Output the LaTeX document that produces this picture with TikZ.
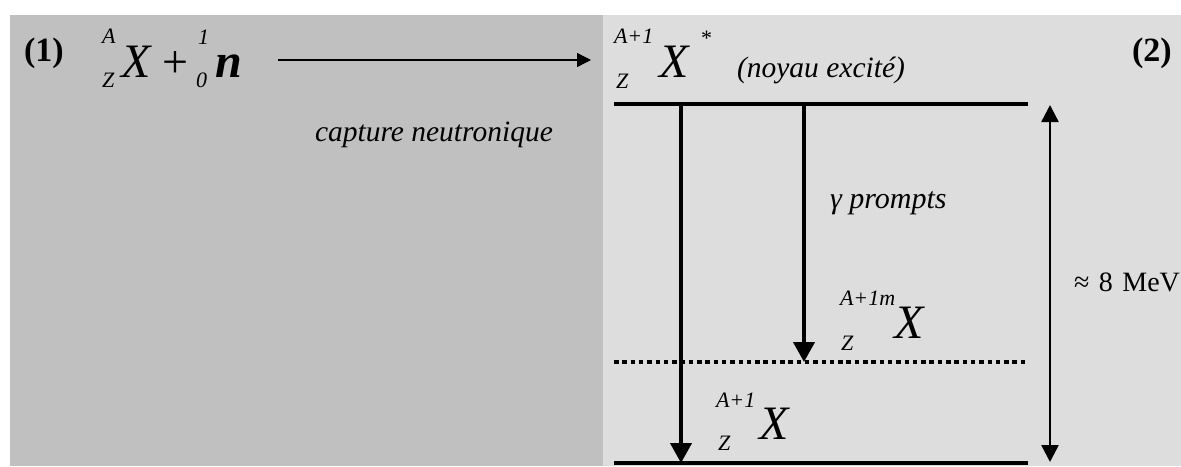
\documentclass[tikz,border=0pt]{standalone}
\usepackage{fontspec}
\setmainfont{Liberation Serif}
\usetikzlibrary{arrows.meta}
\begin{document}
\begin{tikzpicture}[x=1pt,y=-1pt,
  txt/.style={inner sep=0pt, outer sep=0pt, anchor=base west},
  big/.style={txt, font=\fontsize{48}{52}\selectfont\itshape},
  small/.style={txt, font=\fontsize{22}{24}\selectfont\itshape},
  label/.style={txt, font=\fontsize{29.5}{32}\selectfont\itshape},
  num/.style={txt, font=\fontsize{34}{38}\selectfont\bfseries},
  level/.style={line width=4pt},
  decay/.style={line width=4pt, -{Triangle[length=20pt,width=21pt]}},
  span/.style={line width=2.5pt, {Triangle[length=17pt,width=17pt]}-{Triangle[length=17pt,width=17pt]}},
  react/.style={line width=1.3pt, -{Triangle[length=14pt,width=14pt]}}
]
\useasboundingbox (0,0) rectangle (1181,466);
\fill[white] (0,0) rectangle (1181,466);
\fill[fill={rgb,255:red,192;green,192;blue,192}] (10,15) rectangle (603,466);
\fill[fill={rgb,255:red,221;green,221;blue,221}] (603,15) rectangle (1181,466);

% panel numbers
\node[num] (n1) at (24,61) {(1)};
\node[num] (n2) at (1132,61) {(2)};

% left formula
\node[small] (lA) at (102,43) {A};
\node[small] (lZ) at (102,87) {Z};
\node[big] (lX) at (121,77) {X};
\node[txt, font=\fontsize{46}{50}\selectfont] (lplus) at (162,77) {+};
\node[small] (l1) at (198,44) {1};
\node[small] (l0) at (196,87) {0};
\node[big, font=\fontsize{48}{52}\selectfont\bfseries\itshape] (ln) at (215,77) {n};

% reaction arrow
\coordinate (rs) at (278,60);
\coordinate (re) at (591,60);
\draw[react] (rs) -- (re);
\node[label] (cap) at (315,141) {capture neutronique};

% excited nucleus
\node[small] (eA) at (614,43) {A+1};
\node[small] (eZ) at (616,88) {Z};
\node[big] (eX) at (659,77) {X};
\node[small, font=\fontsize{22}{24}\selectfont] (eS) at (701,45) {*};
\node[label] (exc) at (737,77) {(noyau excité)};

% levels
\coordinate (t1) at (614,104); \coordinate (t2) at (1028,104);
\coordinate (m1) at (614,362); \coordinate (m2) at (1028,362);
\coordinate (b1) at (614,463); \coordinate (b2) at (1028,463);
\draw[level] (t1) -- (t2);
\draw[level, dash pattern=on 4.5pt off 3.8pt] (m1) -- (m2);
\draw[level] (b1) -- (b2);

% decay arrows
\coordinate (a1s) at (681,104); \coordinate (a1e) at (681,463);
\coordinate (a2s) at (804,104); \coordinate (a2e) at (804,362);
\draw[decay] (a1s) -- (a1e);
\draw[decay] (a2s) -- (a2e);
\node[label, font=\fontsize{30}{32}\selectfont\itshape] (gam) at (830,208) {γ prompts};

% energy span
\coordinate (es) at (1050,105); \coordinate (ee) at (1050,462);
\draw[span] (es) -- (ee);
\node[txt, font=\fontsize{28}{30}\selectfont] (mev) at (1074,291) {≈\hspace{9.5pt}8\hspace{9.5pt}MeV};

% metastable
\node[small] (mA) at (840,305) {A+1m};
\node[small] (mZ) at (841,350) {Z};
\node[big] (mX) at (894,338) {X};

% ground state
\node[small] (gA) at (716,407) {A+1};
\node[small] (gZ) at (718,450) {Z};
\node[big] (gX) at (759,439) {X};
\end{tikzpicture}
\end{document}
